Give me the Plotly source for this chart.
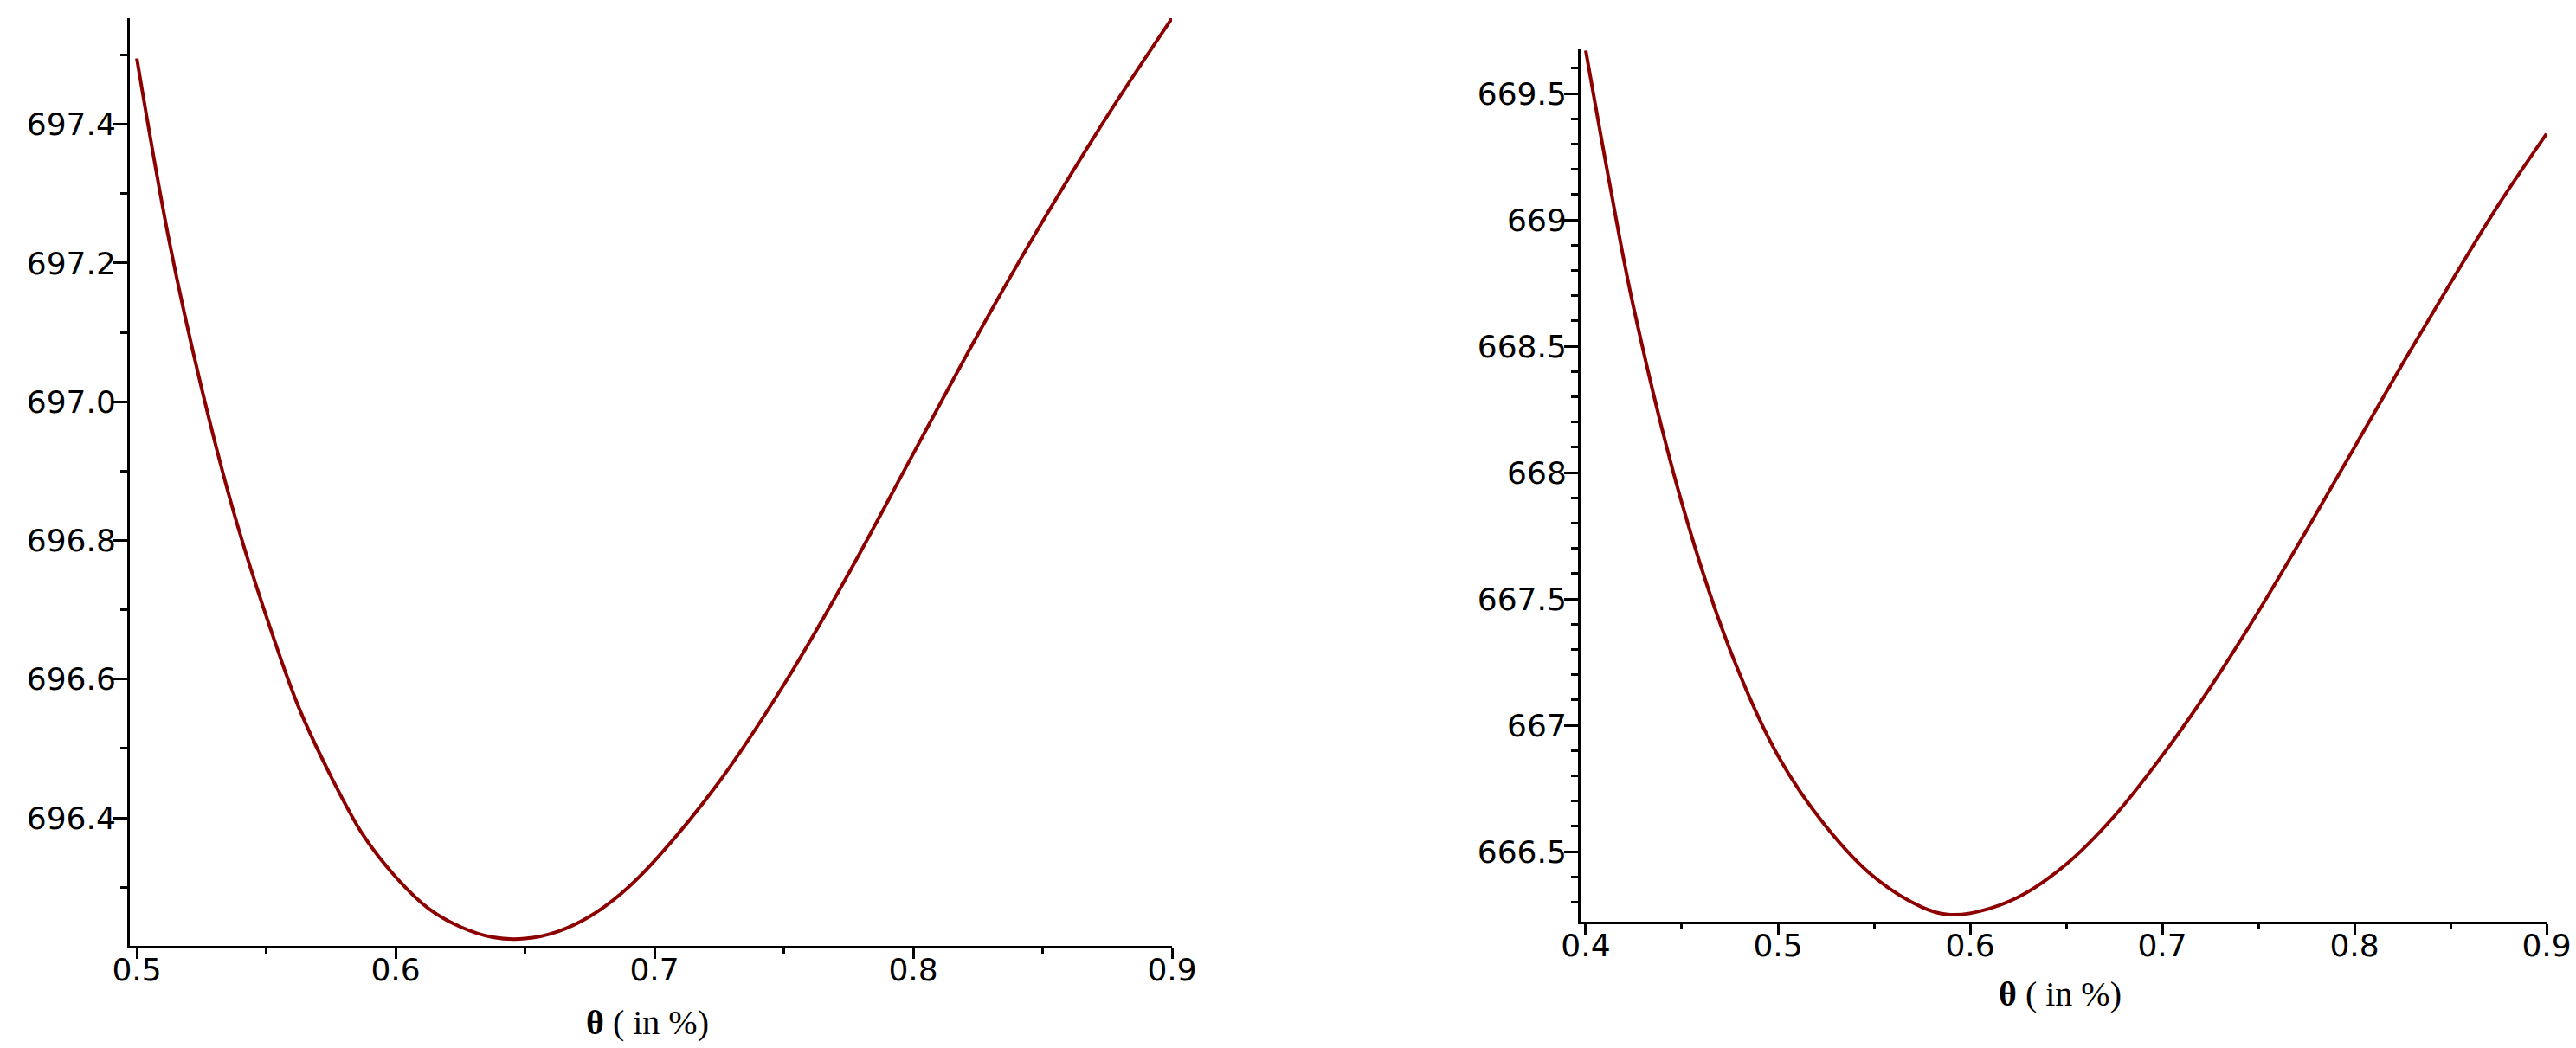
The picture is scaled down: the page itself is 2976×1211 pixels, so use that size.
import plotly.graph_objects as go

# left panel: theta vs objective
theta_a = [0.5, 0.5125, 0.525, 0.5375, 0.55, 0.5625, 0.575, 0.5875, 0.6, 0.6125, 0.625,
           0.6375, 0.65, 0.6625, 0.675, 0.6875, 0.7, 0.725, 0.75, 0.775, 0.8, 0.825, 0.85,
           0.875, 0.9]
value_a = [697.495, 697.232, 697.02, 696.84, 696.691, 696.56, 696.46, 696.375, 696.315,
           696.27, 696.243, 696.228, 696.226, 696.236, 696.258, 696.292, 696.338, 696.452,
           696.592, 696.752, 696.925, 697.097, 697.26, 697.412, 697.553]

# right panel
theta_b = [0.4, 0.4125, 0.425, 0.45, 0.475, 0.5, 0.525, 0.55, 0.575, 0.5875, 0.6, 0.625,
           0.65, 0.675, 0.7, 0.725, 0.75, 0.775, 0.8, 0.825, 0.85, 0.875, 0.9]
value_b = [669.67, 669.14, 668.65, 667.88, 667.3, 666.88, 666.6, 666.4, 666.28, 666.252,
           666.256, 666.32, 666.45, 666.64, 666.88, 667.15, 667.45, 667.77, 668.1, 668.43,
           668.75, 669.06, 669.341]

xticks_a = [0.5, 0.6, 0.7, 0.8, 0.9]
xticks_b = [0.4, 0.5, 0.6, 0.7, 0.8, 0.9]
yticks_a = [696.4, 696.6, 696.8, 697.0, 697.2, 697.4]
yticks_b = [666.5, 667, 667.5, 668, 668.5, 669, 669.5]
ylabels_b = ["666.5", "667", "667.5", "668", "668.5", "669", "669.5"]

X_TITLE = "<b>θ</b> ( in %)"
LINE_COLOR = "#8c0000"
W, H = 2976, 1211

fig = go.Figure()
fig.add_trace(go.Scatter(x=theta_a, y=value_a, mode="lines", line=dict(color=LINE_COLOR, width=4, shape="spline"),
                         xaxis="x", yaxis="y", showlegend=False))
fig.add_trace(go.Scatter(x=theta_b, y=value_b, mode="lines", line=dict(color=LINE_COLOR, width=4, shape="spline"),
                         xaxis="x2", yaxis="y2", showlegend=False))

tick_font = dict(family="DejaVu Sans", size=36, color="black")
title_font = dict(family="Liberation Serif", size=40, color="black")

def xaxis(domain, rng, vals, anchor):
    return dict(domain=domain, range=rng, tickvals=vals, ticktext=[str(v) for v in vals],
                showline=True, linecolor="black", linewidth=3, ticks="outside", ticklen=12,
                tickwidth=3, tickcolor="black", showgrid=False, zeroline=False, tickfont=tick_font,
                ticklabelstandoff=-18, ticklabeloverflow="allow",
                minor=dict(dtick=0.05, ticks="outside", ticklen=6, tickwidth=3, tickcolor="black", showgrid=False),
                anchor=anchor, automargin=False)

def yaxis(domain, rng, vals, labels, mdtick, anchor):
    return dict(domain=domain, range=rng, tickvals=vals, ticktext=labels,
                showline=True, linecolor="black", linewidth=3, ticks="outside", ticklen=16,
                tickwidth=3, tickcolor="black", showgrid=False, zeroline=False, tickfont=tick_font,
                ticklabelstandoff=-10, ticklabeloverflow="allow",
                minor=dict(dtick=mdtick, tick0=0, ticks="outside", ticklen=8, tickwidth=3, tickcolor="black", showgrid=False),
                anchor=anchor, automargin=False)

fig.update_layout(
    width=W, height=H,
    margin=dict(l=0, r=0, t=0, b=0),
    paper_bgcolor="white", plot_bgcolor="white",
    xaxis=xaxis([150 / W, 1354 / W], [0.4973, 0.9], xticks_a, "y"),
    yaxis=yaxis([1 - 1093 / H, 1 - 21 / H], [696.2155, 697.553], yticks_a,
                ["%.1f" % v for v in yticks_a], 0.1, "x"),
    xaxis2=xaxis([1826 / W, 2942 / W], [0.3973, 0.9], xticks_b, "y2"),
    yaxis2=yaxis([1 - 1065 / H, 1 - 57 / H], [666.223, 669.675], yticks_b, ylabels_b, 0.1, "x2"),
)

# axis titles under each panel
fig.add_annotation(text=X_TITLE, x=748 / W, y=1 - 1181 / H, xref="paper", yref="paper",
                   showarrow=False, font=title_font, xanchor="center", yanchor="middle")
fig.add_annotation(text=X_TITLE, x=2380 / W, y=1 - 1148 / H, xref="paper", yref="paper",
                   showarrow=False, font=title_font, xanchor="center", yanchor="middle")

# page body has an 8px default margin; drop it so the figure fills the window exactly
fig.write_html("out.html", config={"displayModeBar": False},
               post_script="document.body.style.margin='0px';")
